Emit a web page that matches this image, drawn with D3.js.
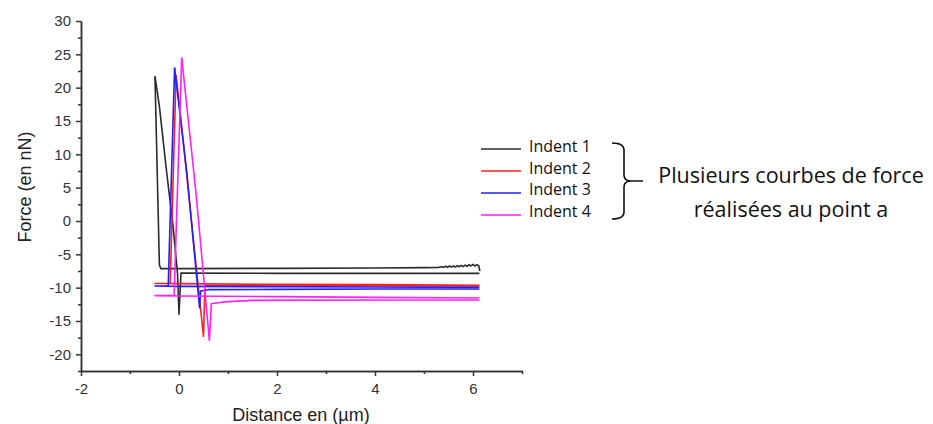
<!DOCTYPE html>
<html>
<head>
<meta charset="utf-8">
<script src="https://cdn.jsdelivr.net/npm/d3@7"></script>
<style>
  html, body { margin: 0; padding: 0; background: #fff; }
  svg { display: block; }
</style>
</head>
<body>
<svg id="chart" width="933" height="424"></svg>
<script>
// ---- data ----
const xTicks = [-2, 0, 2, 4, 6];
const yTicks = [-20, -15, -10, -5, 0, 5, 10, 15, 20, 25, 30];
const xLabel = "Distance en (µm)";
const yLabel = "Force (en nN)";
const seriesNames = ["Indent 1", "Indent 2", "Indent 3", "Indent 4"];
const seriesColors = ["#2b2b2b", "#ff1f1f", "#1f1fff", "#ff1fff"];
const noteLines = ["Plusieurs courbes de force", "réalisées au point a"];

// Indent 1 (black)
const indent1Approach = [
  [6.14, -7.5], [6.12, -6.75], [6.08, -6.55], [6.04, -6.75], [6.00, -6.5], [5.96, -6.75],
  [5.92, -6.55], [5.88, -6.8], [5.84, -6.6], [5.80, -6.85], [5.76, -6.65], [5.72, -6.85],
  [5.68, -6.7], [5.64, -6.9], [5.60, -6.75], [5.56, -6.9], [5.52, -6.75], [5.48, -6.95],
  [5.44, -6.8], [5.40, -6.95], [5.35, -6.85], [5.30, -6.95], [5.0, -7.0], [4.0, -7.05],
  [2.0, -7.1], [0.0, -7.15], [-0.37, -7.15], [-0.40, -6.6], [-0.49, 21.7]
];
const indent1Retract = [
  [-0.49, 21.7], [-0.40, 17.2], [-0.25, 7.2], [-0.12, -0.85], [-0.03, -7.9],
  [0.0, -14.0], [0.02, -11.0], [0.04, -7.8], [2.0, -7.85], [4.0, -7.85], [6.13, -7.85]
];
// Indent 2 (red)
const indent2Approach = [
  [6.13, -9.65], [4.0, -9.55], [2.0, -9.5], [0.0, -9.4], [-0.49, -9.37],
  [-0.18, -9.37], [-0.06, 21.9]
];
const indent2Retract = [
  [-0.06, 21.9], [0.10, 11.0], [0.33, -5.4], [0.50, -17.3], [0.53, -9.7],
  [2.0, -9.6], [4.0, -9.7], [6.13, -9.75]
];
// Indent 3 (blue)
const indent3Approach = [
  [6.13, -9.95], [4.0, -9.9], [2.0, -9.85], [0.0, -9.8], [-0.49, -9.75],
  [-0.22, -9.75], [-0.09, 23.0]
];
const indent3Retract = [
  [-0.09, 23.0], [0.16, 7.2], [0.42, -13.0], [0.44, -10.5], [0.6, -10.3],
  [2.0, -10.25], [4.0, -10.2], [6.13, -10.2]
];
// Indent 4 (magenta)
const indent4Approach = [
  [6.13, -11.55], [4.0, -11.45], [2.0, -11.35], [0.0, -11.25], [-0.49, -11.2],
  [-0.10, -11.2], [0.055, 24.5]
];
const indent4Retract = [
  [0.055, 24.5], [0.35, 4.0], [0.62, -17.9], [0.66, -12.4], [0.75, -12.3],
  [1.0, -12.1], [1.5, -11.9], [4.0, -11.85], [6.13, -11.85]
];

const seriesData = [
  [indent1Approach, indent1Retract],
  [indent2Approach, indent2Retract],
  [indent3Approach, indent3Retract],
  [indent4Approach, indent4Retract]
];

// ---- drawing ----
const svg = d3.select("#chart");
const axisColor = "#333";
const x = d3.scaleLinear().domain([-2, 7]).range([81, 522]);
const y = d3.scaleLinear().domain([-22.5, 30]).range([371, 21]);

const line = d3.line().x(d => x(d[0])).y(d => y(d[1]));

// curves
const plot = svg.append("g");
seriesData.forEach((segs, i) => {
  segs.forEach(seg => {
    plot.append("path")
      .attr("d", line(seg))
      .attr("fill", "none")
      .attr("stroke", seriesColors[i])
      .attr("stroke-width", 1.6)
      .attr("stroke-linejoin", "round");
  });
});

// axes
const fontTick = "'Liberation Sans', Arial, sans-serif";
const fmt = d => String(d);
const xAxis = d3.axisBottom(x).tickValues(xTicks).tickSize(5).tickSizeOuter(0).tickPadding(7).tickFormat(fmt);
const xMinor = d3.axisBottom(x).tickValues([-1, 1, 3, 5, 7]).tickSize(3).tickSizeOuter(0).tickFormat("");
const yAxis = d3.axisLeft(y).tickValues(yTicks).tickSize(5).tickSizeOuter(0).tickPadding(5).tickFormat(fmt);
const yMinor = d3.axisLeft(y).tickValues([-22.5, -17.5, -12.5, -7.5, -2.5, 2.5, 7.5, 12.5, 17.5, 22.5, 27.5]).tickSize(3).tickSizeOuter(0).tickFormat("");

function styleAxis(g) {
  g.selectAll("path.domain").attr("stroke", axisColor).attr("stroke-width", 1.5);
  g.selectAll(".tick line").attr("stroke", axisColor).attr("stroke-width", 1.5);
  g.selectAll(".tick text").attr("fill", "#333").style("font-family", fontTick).style("font-size", "15px");
}

svg.append("g").attr("transform", "translate(0,371)").call(xMinor).call(styleAxis);
svg.append("g").attr("transform", "translate(0,371)").call(xAxis).call(styleAxis);
svg.append("g").attr("transform", "translate(81,0)").call(yMinor).call(styleAxis);
svg.append("g").attr("transform", "translate(81,0)").call(yAxis).call(styleAxis);

// axis titles
svg.append("text")
  .attr("x", 301).attr("y", 421)
  .attr("text-anchor", "middle")
  .style("font-family", fontTick).style("font-size", "18px").attr("fill", "#222")
  .text(xLabel);
svg.append("text")
  .attr("transform", "translate(31,187) rotate(-90)")
  .attr("text-anchor", "middle")
  .style("font-family", fontTick).style("font-size", "18px").attr("fill", "#222")
  .text(yLabel);

// legend
const fontNote = "'Open Sans', 'Noto Sans', sans-serif";
const legendY = [149, 171, 193, 215];
const legendTextY = [146, 168, 189, 211];
const legend = svg.append("g");
seriesNames.forEach((name, i) => {
  legend.append("line")
    .attr("x1", 481).attr("x2", 521)
    .attr("y1", legendY[i]).attr("y2", legendY[i])
    .attr("stroke", seriesColors[i]).attr("stroke-width", 1.3);
  legend.append("text")
    .attr("x", 529).attr("y", legendTextY[i])
    .attr("dy", "0.35em")
    .style("font-family", fontNote).style("font-size", "16px").attr("fill", "#111")
    .text(name);
});

// brace
svg.append("path")
  .attr("d", "M612,143 Q624,143 624,150 L624,175 Q624,181 631,181 L643,181 M631,181 Q624,181 624,187 L624,212 Q624,219 612,219")
  .attr("fill", "none").attr("stroke", "#111").attr("stroke-width", 1.6);

// note text
noteLines.forEach((t, i) => {
  svg.append("text")
    .attr("x", 791).attr("y", [175, 209][i])
    .attr("dy", "0.35em")
    .attr("text-anchor", "middle")
    .style("font-family", fontNote).style("font-size", "21.5px").attr("fill", "#111")
    .text(t);
});
</script>
</body>
</html>
